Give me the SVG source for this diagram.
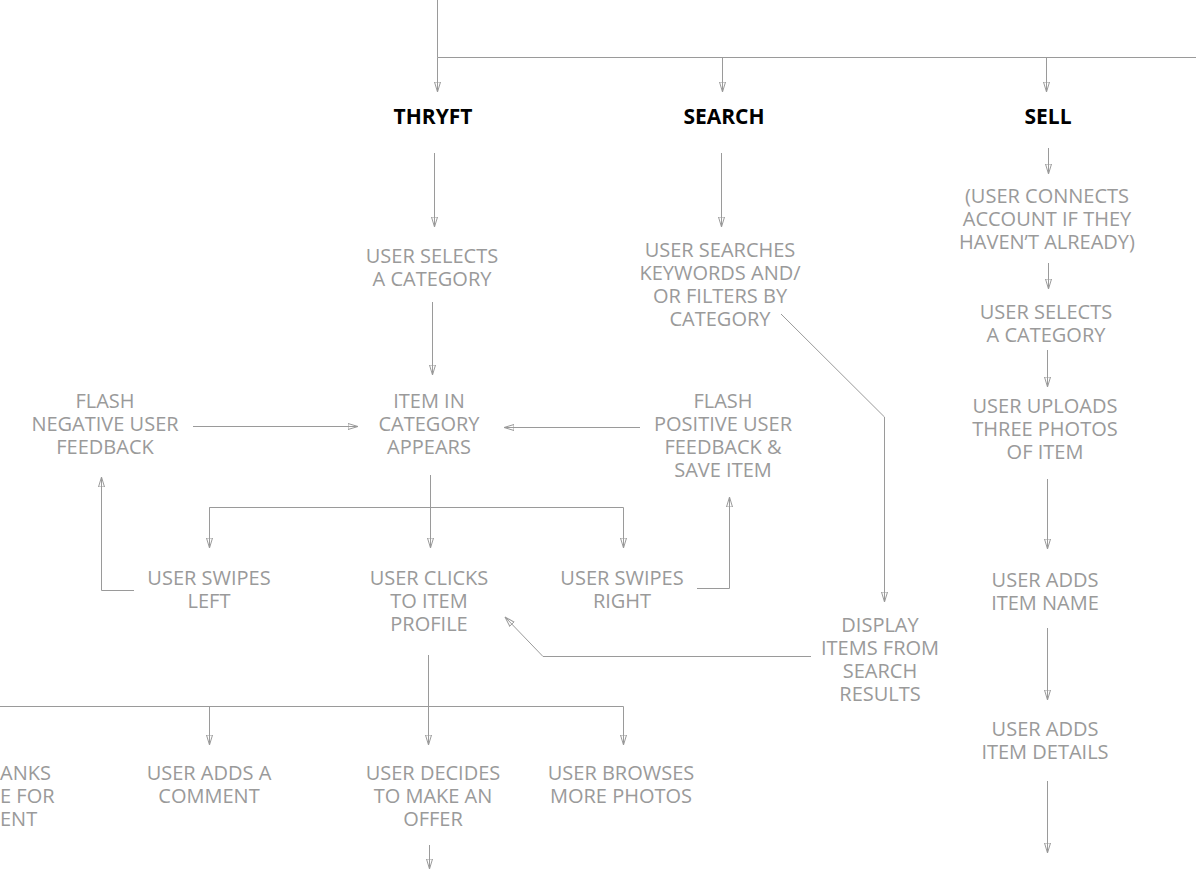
<svg xmlns="http://www.w3.org/2000/svg" width="1196" height="870" viewBox="0 0 1196 870">
<style>
.t{font-family:"Open Sans","Noto Sans","Liberation Sans",sans-serif;font-size:20px;fill:#9a9a9a;text-anchor:middle}
.h{font-family:"Open Sans","Noto Sans","Liberation Sans",sans-serif;font-size:21px;font-weight:bold;fill:#000;text-anchor:middle}
.c{fill:none;stroke:#9a9a9a;stroke-width:1}
.a{marker-end:url(#ah)}
</style>
<defs>
<marker id="ah" viewBox="0 0 10 8" refX="10" refY="4" markerWidth="10" markerHeight="8" markerUnits="userSpaceOnUse" orient="auto">
<path d="M0,1 L10,4 L0,7 Z" fill="none" stroke="#9a9a9a" stroke-width="1"/>
</marker>
</defs>
<rect width="1196" height="870" fill="#fff"/>
<g id="connectors">
<path class="c" d="M437.5,0 V57.5 H1196"/>
<path class="c a" d="M437.5,57.5 V92"/>
<path class="c a" d="M722.5,57.5 V92"/>
<path class="c a" d="M1046.5,57.5 V92"/>
<path class="c a" d="M434.5,153 V227"/>
<path class="c a" d="M432.5,302 V375"/>
<path class="c a" d="M193,426.5 H358"/>
<path class="c a" d="M640,427.5 H504"/>
<path class="c a" d="M430.5,475 V548"/>
<path class="c" d="M209.5,548 V507.5 H623.5"/>
<path class="c a" d="M209.5,507.5 V548"/>
<path class="c a" d="M623.5,507.5 V548"/>
<path class="c a" d="M134,590.5 H101.5 V477"/>
<path class="c a" d="M697,588.5 H729.5 V497"/>
<path class="c a" d="M721.5,153 V227"/>
<path class="c a" d="M781,314 L884.5,417 V602"/>
<path class="c a" d="M811,656.5 H543 L505,617"/>
<path class="c a" d="M428.5,655 V745"/>
<path class="c" d="M0,706.5 H623.5"/>
<path class="c a" d="M209.5,706.5 V745"/>
<path class="c a" d="M623.5,706.5 V745"/>
<path class="c a" d="M429.5,845 V869"/>
<path class="c a" d="M1048.5,148 V174"/>
<path class="c a" d="M1048.5,263 V289"/>
<path class="c a" d="M1047.5,350 V387"/>
<path class="c a" d="M1047.5,479 V549"/>
<path class="c a" d="M1047.5,628 V700"/>
<path class="c a" d="M1047.5,781 V853"/>
</g>
<g id="thryft"><text class="h" x="433" y="124">THRYFT</text></g>
<g id="search"><text class="h" x="724" y="124">SEARCH</text></g>
<g id="sell"><text class="h" x="1048" y="124">SELL</text></g>
<g id="t-select"><text class="t" y="263"><tspan x="432">USER SELECTS</tspan><tspan x="432" dy="23">A CATEGORY</tspan></text></g>
<g id="t-item"><text class="t" y="408"><tspan x="429">ITEM IN</tspan><tspan x="429" dy="23">CATEGORY</tspan><tspan x="429" dy="23">APPEARS</tspan></text></g>
<g id="t-neg"><text class="t" y="408"><tspan x="105">FLASH</tspan><tspan x="105" dy="23">NEGATIVE USER</tspan><tspan x="105" dy="23">FEEDBACK</tspan></text></g>
<g id="t-pos"><text class="t" y="408"><tspan x="723">FLASH</tspan><tspan x="723" dy="23">POSITIVE USER</tspan><tspan x="723" dy="23">FEEDBACK &amp;</tspan><tspan x="723" dy="23">SAVE ITEM</tspan></text></g>
<g id="t-left"><text class="t" y="585"><tspan x="209">USER SWIPES</tspan><tspan x="209" dy="23">LEFT</tspan></text></g>
<g id="t-click"><text class="t" y="585"><tspan x="429">USER CLICKS</tspan><tspan x="429" dy="23">TO ITEM</tspan><tspan x="429" dy="23">PROFILE</tspan></text></g>
<g id="t-right"><text class="t" y="585"><tspan x="622">USER SWIPES</tspan><tspan x="622" dy="23">RIGHT</tspan></text></g>
<g id="s-search"><text class="t" y="257"><tspan x="720">USER SEARCHES</tspan><tspan x="720" dy="23">KEYWORDS AND/</tspan><tspan x="720" dy="23">OR FILTERS BY</tspan><tspan x="720" dy="23">CATEGORY</tspan></text></g>
<g id="s-display"><text class="t" y="632"><tspan x="880">DISPLAY</tspan><tspan x="880" dy="23">ITEMS FROM</tspan><tspan x="880" dy="23">SEARCH</tspan><tspan x="880" dy="23">RESULTS</tspan></text></g>
<g id="t-thanks"><text class="t" style="text-anchor:start" y="780"><tspan x="0">ANKS</tspan><tspan x="0" dy="23">E FOR</tspan><tspan x="0" dy="23">ENT</tspan></text></g>
<g id="t-comment"><text class="t" y="780"><tspan x="209">USER ADDS A</tspan><tspan x="209" dy="23">COMMENT</tspan></text></g>
<g id="t-offer"><text class="t" y="780"><tspan x="433">USER DECIDES</tspan><tspan x="433" dy="23">TO MAKE AN</tspan><tspan x="433" dy="23">OFFER</tspan></text></g>
<g id="t-browse"><text class="t" y="780"><tspan x="621">USER BROWSES</tspan><tspan x="621" dy="23">MORE PHOTOS</tspan></text></g>
<g id="l-connect"><text class="t" y="203"><tspan x="1047">(USER CONNECTS</tspan><tspan x="1047" dy="23">ACCOUNT IF THEY</tspan><tspan x="1047" dy="23">HAVEN’T ALREADY)</tspan></text></g>
<g id="l-select"><text class="t" y="319"><tspan x="1046">USER SELECTS</tspan><tspan x="1046" dy="23">A CATEGORY</tspan></text></g>
<g id="l-upload"><text class="t" y="413"><tspan x="1045">USER UPLOADS</tspan><tspan x="1045" dy="23">THREE PHOTOS</tspan><tspan x="1045" dy="23">OF ITEM</tspan></text></g>
<g id="l-name"><text class="t" y="587"><tspan x="1045">USER ADDS</tspan><tspan x="1045" dy="23">ITEM NAME</tspan></text></g>
<g id="l-details"><text class="t" y="736"><tspan x="1045">USER ADDS</tspan><tspan x="1045" dy="23">ITEM DETAILS</tspan></text></g>
</svg>
